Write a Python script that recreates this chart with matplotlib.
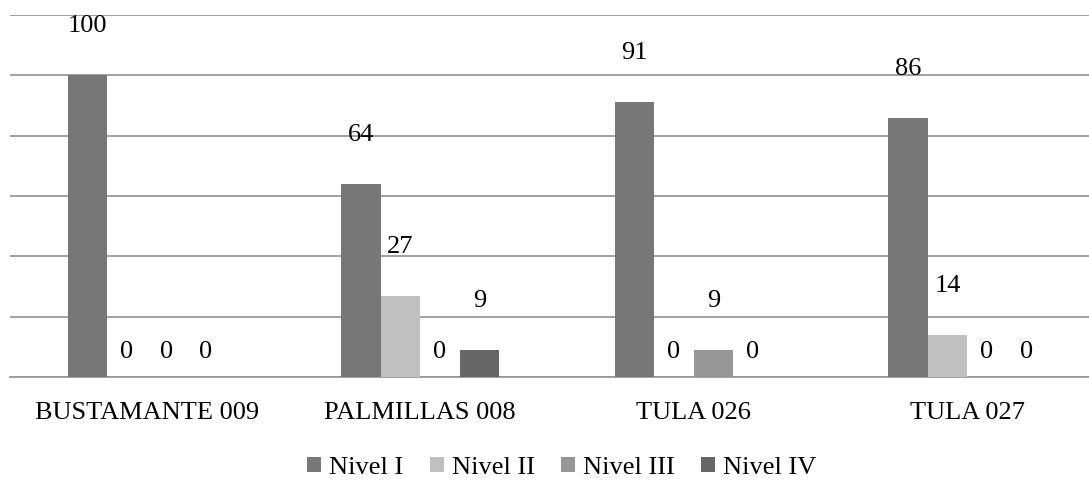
import matplotlib
matplotlib.use("Agg")
import matplotlib.pyplot as plt
from matplotlib.patches import Patch
import numpy as np

categories = ["BUSTAMANTE 009", "PALMILLAS 008", "TULA 026", "TULA 027"]
series_names = ["Nivel I", "Nivel II", "Nivel III", "Nivel IV"]
nivel_1 = [100, 64, 91, 86]
nivel_2 = [0, 27, 0, 14]
nivel_3 = [0, 0, 9, 0]
nivel_4 = [0, 9, 0, 0]
colors = ["#777777", "#c0c0c0", "#969696", "#666666"]

plt.rcParams["font.family"] = ["Liberation Serif", "DejaVu Serif"]
FS = 19

W, H = 1089, 482
fig = plt.figure(figsize=(W / 100, H / 100), dpi=100)
left_px, right_px = 10, 1104
top_px, bottom_px = 15, 377
ax = fig.add_axes([left_px / W, 1 - bottom_px / H,
                   (right_px - left_px) / W, (bottom_px - top_px) / H])

x = np.arange(len(categories))
bw = 0.1445
series = [nivel_1, nivel_2, nivel_3, nivel_4]

for i, (vals, c) in enumerate(zip(series, colors)):
    xs = x + (i - 1.5) * bw
    ax.bar(xs, vals, width=bw, color=c, edgecolor="none", zorder=3)
    for xi, v in zip(xs, vals):
        off_px = 49 if v > 0 else 25
        ax.annotate(f"{v}", (xi, v), xytext=(0, off_px * 0.72),
                    textcoords="offset points", ha="center", va="center",
                    fontsize=FS, color="black", zorder=4)

ax.set_xlim(-0.5, len(categories) - 0.5)
ax.set_ylim(0, 120)
ax.set_yticks(np.arange(0, 121, 20))
ax.yaxis.grid(True, color="#999999", linewidth=1.3, zorder=0)
ax.set_yticklabels([])
ax.tick_params(axis="y", length=0)
ax.tick_params(axis="x", length=0, pad=18, labelsize=FS)
ax.set_xticks(x)
ax.set_xticklabels(categories)
for s in ["left", "right", "top"]:
    ax.spines[s].set_visible(False)
ax.spines["bottom"].set_color("#999999")
ax.spines["bottom"].set_linewidth(1.3)
ax.set_axisbelow(True)

handles = [Patch(facecolor=c, edgecolor="none") for c in colors]
fig.legend(handles, series_names, loc="center", bbox_to_anchor=(0.516, 1 - 468 / H),
           ncol=4, frameon=False, fontsize=FS, handlelength=0.53,
           handleheight=0.53, handletextpad=0.3, columnspacing=1.0,
           borderpad=0)

fig.savefig("out.png", dpi=100)
